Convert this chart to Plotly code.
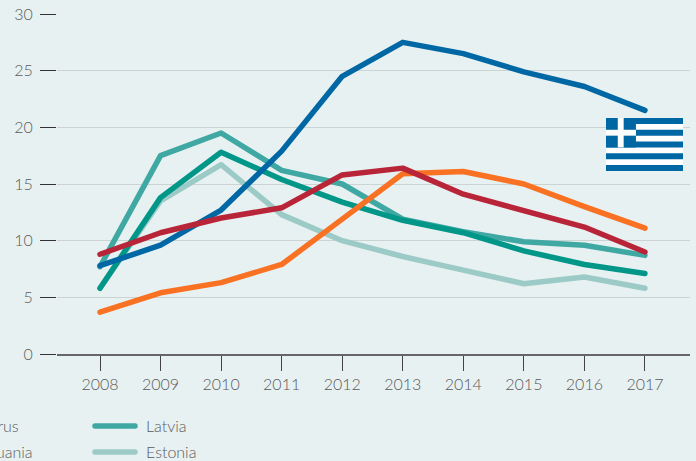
import plotly.graph_objects as go

years = [2008, 2009, 2010, 2011, 2012, 2013, 2014, 2015, 2016, 2017]
y_ticks = [0, 5, 10, 15, 20, 25, 30]
estonia = [5.8, 13.5, 16.7, 12.3, 10.0, 8.6, 7.4, 6.2, 6.8, 5.8]
latvia = [7.7, 17.5, 19.5, 16.2, 15.0, 11.9, 10.8, 9.9, 9.6, 8.7]
lithuania = [5.8, 13.8, 17.8, 15.4, 13.4, 11.8, 10.7, 9.1, 7.9, 7.1]
cyprus = [3.7, 5.4, 6.3, 7.9, 11.9, 15.9, 16.1, 15.0, 13.0, 11.1]
greece = [7.8, 9.6, 12.7, 17.9, 24.5, 27.5, 26.5, 24.9, 23.6, 21.5]
portugal = [8.8, 10.7, 12.0, 12.9, 15.8, 16.4, 14.1, 12.6, 11.2, 9.0]

series = [
    ("Estonia", estonia, "#9ccac6"),
    ("Latvia", latvia, "#3fa8a3"),
    ("Lithuania", lithuania, "#009688"),
    ("Cyprus", cyprus, "#f97122"),
    ("Greece", greece, "#0067a5"),
    ("Portugal", portugal, "#b92538"),
]
BG = "#e8f1f2"
TXT = "#5a5a5a"
FONT = "Lato"
W, H = 696, 461
ML, MR, MT, MB = 57, 6, 14, 107
PW = W - ML - MR
PER_YEAR = 60.55

fig = go.Figure()
for name, vals, col in series:
    fig.add_trace(go.Scatter(x=years, y=vals, mode="lines", name=name,
                             line=dict(color=col, width=5.5), showlegend=False, cliponaxis=False))

x0 = 2008 - (100 - ML) / PER_YEAR
x1 = x0 + PW / PER_YEAR

def px(x):
    return (x - ML) / PW

def py(y):
    return (H - MB - y) / (H - MT - MB)

shapes = []
annots = []
lf = dict(family=FONT, size=16, color=TXT, weight=300)
for label, col, sy in [("Latvia", "#3fa8a3", 426), ("Estonia", "#9ccac6", 452)]:
    shapes.append(dict(type="line", xref="paper", yref="paper", x0=px(95), x1=px(135), y0=py(sy), y1=py(sy),
                       line=dict(color=col, width=5.5)))
    annots.append(dict(text=label, xref="paper", yref="paper", x=px(144), y=py(sy), xanchor="left", yanchor="middle",
                       showarrow=False, font=lf))
for label, ex, sy in [("Cyprus", 21, 426), ("Lithuania", 35, 452)]:
    annots.append(dict(text=label, xref="paper", yref="paper", x=px(ex), y=py(sy), xanchor="right", yanchor="middle",
                       showarrow=False, font=lf))

# Greek flag
FLAG_BLUE = "#0067a5"
fx0, fx1, fy0, fy1 = 606, 683, 118, 171
sh = (fy1 - fy0) / 9
def rect(a, b, c, d, col):
    shapes.append(dict(type="rect", xref="paper", yref="paper", x0=px(a), x1=px(b), y0=py(c), y1=py(d),
                       fillcolor=col, line=dict(width=0), layer="above"))
rect(fx0, fx1, fy0, fy1, "white")
for i in range(0, 9, 2):
    rect(fx0, fx1, fy0 + i * sh, fy0 + (i + 1) * sh, FLAG_BLUE)
cw = 5 * sh
rect(fx0, fx0 + cw + 0.5, fy0, fy0 + cw, FLAG_BLUE)
rect(fx0, fx0 + cw + 0.5, fy0 + 2 * sh, fy0 + 3 * sh, "white")
rect(fx0 + 2 * sh, fx0 + 3 * sh, fy0, fy0 + cw, "white")

tf = dict(family=FONT, size=16, color=TXT, weight=300)
fig.update_layout(
    width=W, height=H, margin=dict(l=ML, r=MR, t=MT, b=MB, autoexpand=False),
    paper_bgcolor=BG, plot_bgcolor=BG, showlegend=False,
    shapes=shapes, annotations=annots,
    font=dict(family=FONT, size=16, color=TXT),
    xaxis=dict(range=[x0, x1], tickmode="array", tickvals=years, ticks="outside", ticklen=15, tickwidth=1,
               tickcolor="#444444", showgrid=False, showline=True, linecolor="#666666", linewidth=1.5,
               zeroline=False, tickfont=tf, automargin=False),
    yaxis=dict(range=[0, 30], tickmode="array", tickvals=y_ticks, ticks="outside", ticklen=16, tickwidth=1,
               tickcolor="#333333", showgrid=True, gridcolor="#cbd3d3", gridwidth=1, showline=False,
               zeroline=False, tickfont=tf, ticklabelstandoff=4, automargin=False),
)
css = ("var s=document.createElement('style');"
       "s.textContent='body{margin:0;overflow:hidden;background:#e8f1f2}"
       ".js-line{stroke-linecap:round!important;stroke-linejoin:round!important}"
       ".shapelayer path{stroke-linecap:round!important}';"
       "document.head.appendChild(s);")
fig.write_html("out.html", post_script=css, config={"displayModeBar": False})
